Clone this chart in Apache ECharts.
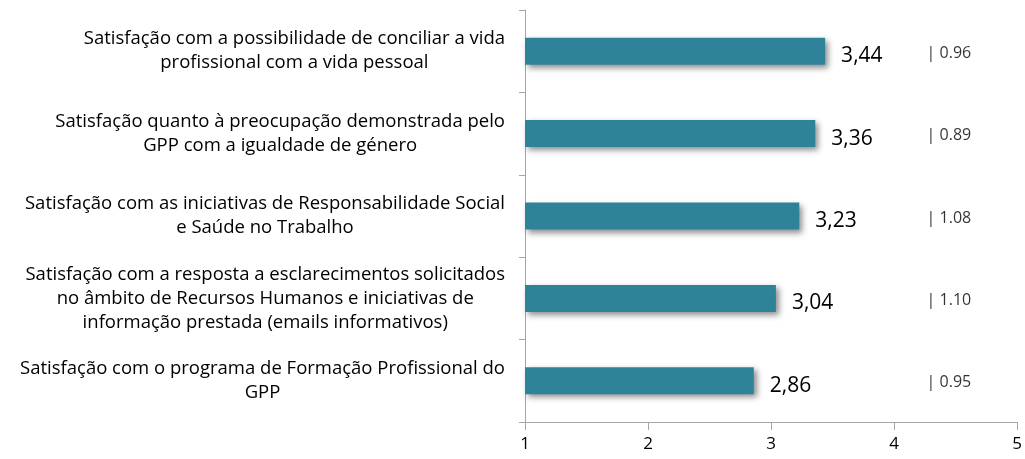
<!DOCTYPE html>
<html>
<head>
<meta charset="utf-8">
<script src="https://cdn.jsdelivr.net/npm/echarts@6/dist/echarts.min.js"></script>
<style>
  html, body { margin: 0; padding: 0; background: #fff; }
  #chart { width: 1025px; height: 459px; }
</style>
</head>
<body>
<div id="chart"></div>
<script>
// categorias (de cima para baixo)
const categories = [
  'Satisfação com a possibilidade de conciliar a vida\nprofissional com a vida pessoal',
  'Satisfação quanto à preocupação demonstrada pelo\nGPP com a igualdade de género',
  'Satisfação com as iniciativas de Responsabilidade Social\ne Saúde no Trabalho',
  'Satisfação com a resposta a esclarecimentos solicitados\nno âmbito de Recursos Humanos e iniciativas de\ninformação prestada (emails informativos)',
  'Satisfação com o programa de Formação Profissional do\nGPP'
];
// médias
const means = [3.44, 3.36, 3.23, 3.04, 2.86];
// desvios padrão
const sds = ['0.96', '0.89', '1.08', '1.10', '0.95'];
const xTicks = [1, 2, 3, 4, 5];

const SD_X = 4.265; // coluna onde aparece o "| dp"
const font = '"Open Sans", sans-serif';

const chart = echarts.init(document.getElementById('chart'));
const option = {
  animation: false,
  grid: { left: 525, right: 8, top: 10, bottom: 37 },
  xAxis: {
    type: 'value',
    min: xTicks[0],
    max: xTicks[xTicks.length - 1],
    interval: 1,
    axisLine: { show: true, lineStyle: { color: '#a6a6a6' } },
    axisTick: { show: true, length: 8, lineStyle: { color: '#a6a6a6' } },
    splitLine: { show: false },
    axisLabel: { color: '#000', fontSize: 17, fontFamily: font, margin: 14 }
  },
  yAxis: {
    type: 'category',
    inverse: true,
    data: categories,
    axisLine: { show: true, lineStyle: { color: '#a6a6a6' } },
    axisTick: { show: true, length: 6, lineStyle: { color: '#a6a6a6' } },
    axisLabel: {
      margin: 20,
      formatter: (v) => v.split('\n').map(l => '{c|' + l + '}').join('\n'),
      rich: {
        c: { align: 'center', fontSize: 18.5, lineHeight: 24, color: '#000', fontFamily: font }
      }
    }
  },
  series: [
    {
      type: 'bar',
      data: means,
      barWidth: 27,
      itemStyle: {
        color: '#2f8399',
        shadowColor: 'rgba(0,0,0,0.45)',
        shadowBlur: 6,
        shadowOffsetX: 3,
        shadowOffsetY: 3
      },
      label: {
        show: true,
        position: 'right',
        distance: 16,
        offset: [0, 5],
        color: '#000',
        fontSize: 21,
        fontFamily: font,
        formatter: (p) => p.value.toFixed(2).replace('.', ',')
      }
    },
    {
      type: 'scatter',
      symbolSize: 0,
      silent: true,
      data: sds.map((s, i) => [SD_X, i]),
      label: {
        show: true,
        position: 'right',
        distance: 0,
        offset: [0, 2],
        color: '#000',
        fontSize: 16,
        fontFamily: font,
        formatter: (p) => '| ' + sds[p.dataIndex]
      }
    }
  ]
};
chart.setOption(option);
</script>
</body>
</html>
